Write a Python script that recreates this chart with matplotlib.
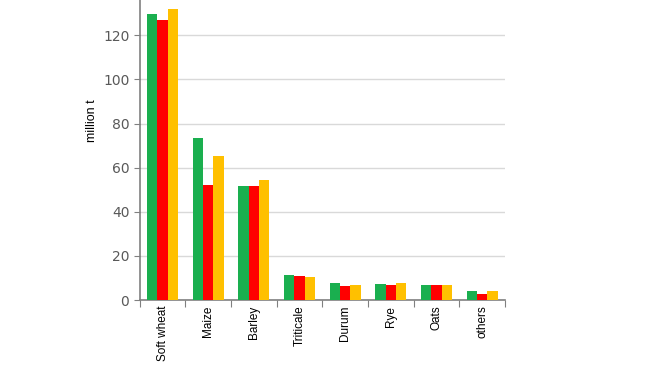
import matplotlib.pyplot as plt
import numpy as np

categories = ['Soft wheat', 'Maize', 'Barley', 'Triticale', 'Durum', 'Rye', 'Oats', 'others']
series_a = [129.5, 73.4, 51.6, 11.3, 7.7, 7.3, 7.0, 4.1]
series_b = [126.8, 52.0, 51.6, 11.0, 6.6, 6.8, 7.0, 2.9]
series_c = [131.8, 65.2, 54.3, 10.4, 7.0, 7.7, 7.0, 4.1]
colors = ['#1aaf4f', '#ff0000', '#ffc000']

fig = plt.figure(figsize=(6.5, 3.66), dpi=100)
ax = fig.add_axes([0.215, 0.18, 0.562, 0.82])

x = np.arange(len(categories))
w = 0.225
for i, (vals, c) in enumerate(zip([series_a, series_b, series_c], colors)):
    ax.bar(x + (i - 1) * w, vals, width=w, color=c, zorder=3)

ax.set_xlim(-0.5, len(categories) - 0.5)
ax.set_ylim(0, 136)
ax.set_yticks(range(0, 121, 20))
ax.yaxis.grid(True, color='#d9d9d9', linewidth=1, zorder=0)

# ticks at category boundaries, labels at centres
ax.set_xticks(np.arange(len(categories) + 1) - 0.5)
ax.set_xticklabels([])
ax.set_xticks(x, minor=True)
ax.set_xticklabels(categories, minor=True, rotation=90, fontsize=8.5,
                   family='Liberation Sans')
ax.tick_params(axis='x', which='minor', length=0, pad=4)
ax.tick_params(axis='x', which='major', length=5, color='#808080')
ax.tick_params(axis='y', length=4, color='#808080', labelsize=10,
               labelcolor='#595959')

for s in ['top', 'right']:
    ax.spines[s].set_visible(False)
for s in ['left', 'bottom']:
    ax.spines[s].set_color('#808080')
    ax.spines[s].set_linewidth(1.2)

ax.set_ylabel('million t', fontsize=9, family='Liberation Sans')
ax.yaxis.set_label_coords(-0.115, 0.597)

fig.savefig('out.png', dpi=100)
